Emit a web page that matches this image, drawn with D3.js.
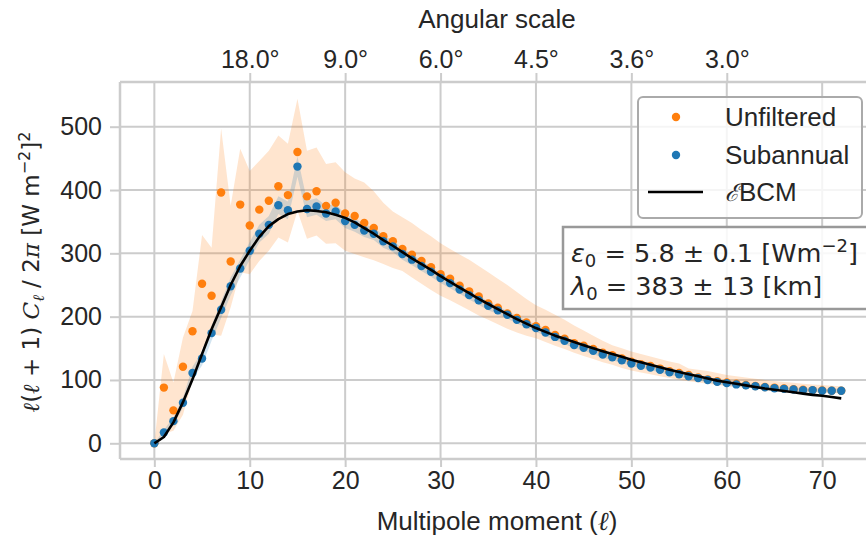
<!DOCTYPE html>
<html>
<head>
<meta charset="utf-8">
<script src="https://cdn.jsdelivr.net/npm/d3@7"></script>
<style>
  body { margin: 0; background: #fff; }
  svg text { font-family: "Liberation Sans", Arial, sans-serif; fill: #262626; }
  .math { font-family: "DejaVu Sans", sans-serif; }
</style>
</head>
<body>
<svg id="chart" width="866" height="537"></svg>
<script>
// multipole moments 0..72
var ells = d3.range(0, 73);

var unfiltered = [0, 88, 52, 121, 177, 252, 233, 396, 287, 377, 344, 369, 383, 406, 392, 460, 390, 398, 375, 380,
  363, 359, 348, 340, 327, 319, 307, 298, 288, 278, 267, 260, 249, 240, 232, 221, 214, 205, 198, 191,
  185, 179, 171, 165, 158, 154, 149, 143, 139, 134, 129, 125, 122, 118, 114, 111, 108, 104, 101, 98,
  96, 94, 92, 90.5, 89, 88, 86.5, 85.5, 84.5, 84, 83.5, 83, 83];

var unfilteredLo = [0, 15, 20, 45, 100, 150, 172, 170, 215, 270, 267, 288, 304, 325, 317, 367, 323, 328, 315, 316,
  304, 299, 294, 289, 283, 277, 272, 262, 252, 242, 233, 226, 218, 210, 202, 195, 188, 181, 175, 170,
  166, 160, 154, 149, 143, 138, 133, 128, 124, 119, 115, 112, 109, 106, 103, 100, 98, 96, 94, 92,
  90, 89, 88, 87, 86, 85, 84, 83, 82, 81, 80, 79.5, 79];

var unfilteredHi = [0, 141, 96, 167, 209, 329, 309, 497, 375, 465, 430, 446, 462, 486, 473, 544, 462, 467, 441, 444,
  428, 418, 412, 398, 380, 366, 357, 348, 337, 327, 316, 307, 298, 290, 280, 270, 260, 250, 239, 228,
  218, 211, 203, 195, 186, 178, 170, 162, 155, 150, 145, 141, 137, 133, 129, 126, 118, 116, 114, 111,
  108, 106, 104, 102, 100, 98.5, 97, 95.5, 94, 93, 92, 91, 90];

var subannual = [0, 17, 35, 64, 111, 134, 174, 211, 248, 276, 304, 331, 345, 376, 368, 437, 370, 374, 363, 366,
  351, 345, 336, 331, 319, 311, 299, 290, 280, 271, 261, 253, 243, 234, 226, 217, 210, 203, 195, 188,
  182, 175, 168, 162, 155, 151, 146, 140, 136, 131, 126, 122.5, 119.5, 116, 112, 109, 106, 103, 100, 97,
  95, 93, 91.5, 90, 88.5, 87, 86, 85, 84, 84, 83, 83, 83];

var subannualErr = [0, 4, 6, 8, 10, 11, 12, 13, 14, 14, 14, 14, 14, 14, 14, 16, 13, 13, 12, 12,
  11, 11, 10, 10, 10, 9, 9, 9, 8, 8, 8, 8, 7, 7, 7, 7, 6, 6, 6, 6,
  6, 6, 5, 5, 5, 5, 5, 5, 5, 4, 4, 4, 4, 4, 4, 4, 4, 4, 4, 4,
  4, 4, 3, 3, 3, 3, 3, 3, 3, 3, 3, 3, 3];

var bcm = [0, 10, 33, 65, 101, 141, 180, 215, 250, 280, 304, 326, 343, 354, 362, 366, 368, 367, 365, 361,
  356, 349, 340, 331, 321, 312, 302, 292, 283, 274, 264, 255, 246, 237, 228, 220, 212, 204, 196, 189,
  182, 176, 170, 165, 160, 155, 150, 145.5, 141, 136.5, 132, 128, 124, 120, 116, 112.5, 109, 106, 102.5, 99,
  96.5, 94, 91.5, 89, 86.5, 84.5, 82.5, 80.5, 78.5, 76.5, 75, 73, 71];

var xTicks = [0, 10, 20, 30, 40, 50, 60, 70];
var yTicks = [0, 100, 200, 300, 400, 500];
var angTicks = [10, 20, 30, 40, 50, 60];
var angLabels = ["18.0°", "9.0°", "6.0°", "4.5°", "3.6°", "3.0°"];

var orange = "#ff7f0e", blue = "#1f77b4", gridColor = "#cccccc";

var width = 866, height = 537,
    margin = { top: 82, bottom: 78, left: 120 },
    plotRight = 875.6,
    plotBottom = height - margin.bottom;

var x = d3.scaleLinear().domain([-3.6, 75.6]).range([margin.left, plotRight]);
var y = d3.scaleLinear().domain([-24.8, 570.6]).range([plotBottom, margin.top]);

var svg = d3.select("#chart");

svg.append("defs").append("clipPath").attr("id", "plotclip")
  .append("rect")
  .attr("x", margin.left).attr("y", margin.top)
  .attr("width", plotRight - margin.left).attr("height", plotBottom - margin.top);

// grid
var grid = svg.append("g").attr("class", "grid");
grid.selectAll(".gx").data(xTicks).enter().append("line")
  .attr("x1", d => x(d)).attr("x2", d => x(d))
  .attr("y1", margin.top).attr("y2", plotBottom)
  .attr("stroke", gridColor).attr("stroke-width", 2);
grid.selectAll(".gy").data(yTicks).enter().append("line")
  .attr("x1", margin.left).attr("x2", plotRight)
  .attr("y1", d => y(d)).attr("y2", d => y(d))
  .attr("stroke", gridColor).attr("stroke-width", 2);

var plot = svg.append("g").attr("clip-path", "url(#plotclip)");

// uncertainty bands
var bandUnf = d3.area()
  .x(d => x(d))
  .y0(d => y(unfilteredLo[d]))
  .y1(d => y(unfilteredHi[d]));
plot.append("path").datum(ells).attr("d", bandUnf)
  .attr("fill", orange).attr("fill-opacity", 0.2);

var bandSub = d3.area()
  .x(d => x(d))
  .y0(d => y(subannual[d] - subannualErr[d]))
  .y1(d => y(subannual[d] + subannualErr[d]));
plot.append("path").datum(ells).attr("d", bandSub)
  .attr("fill", blue).attr("fill-opacity", 0.2);

// points
plot.selectAll(".pu").data(ells).enter().append("circle")
  .attr("cx", d => x(d)).attr("cy", d => y(unfiltered[d]))
  .attr("r", 4.2).attr("fill", orange);
plot.selectAll(".ps").data(ells).enter().append("circle")
  .attr("cx", d => x(d)).attr("cy", d => y(subannual[d]))
  .attr("r", 4.2).attr("fill", blue);

// model curve
var line = d3.line().x(d => x(d)).y(d => y(bcm[d]));
plot.append("path").datum(ells).attr("d", line)
  .attr("fill", "none").attr("stroke", "#000").attr("stroke-width", 2.6)
  .attr("stroke-linejoin", "round");

// spines
svg.append("line").attr("x1", margin.left).attr("x2", margin.left)
  .attr("y1", margin.top).attr("y2", plotBottom)
  .attr("stroke", gridColor).attr("stroke-width", 2.5);
svg.append("line").attr("x1", margin.left).attr("x2", plotRight)
  .attr("y1", margin.top).attr("y2", margin.top)
  .attr("stroke", gridColor).attr("stroke-width", 2.5);
svg.append("line").attr("x1", margin.left).attr("x2", plotRight)
  .attr("y1", plotBottom).attr("y2", plotBottom)
  .attr("stroke", gridColor).attr("stroke-width", 2.5);

// axes
var xAxis = d3.axisBottom(x).tickValues(xTicks).tickSize(8).tickPadding(4);
var gx = svg.append("g").attr("transform", "translate(0," + plotBottom + ")").call(xAxis);

var yAxis = d3.axisLeft(y).tickValues(yTicks).tickSize(10).tickPadding(8);
var gy = svg.append("g").attr("transform", "translate(" + margin.left + ",0)").call(yAxis);

var topAxis = d3.axisTop(x).tickValues(angTicks).tickSize(9).tickPadding(5)
  .tickFormat((d, i) => angLabels[i]);
var gt = svg.append("g").attr("transform", "translate(0," + margin.top + ")").call(topAxis);

[gx, gy, gt].forEach(function(g) {
  g.select(".domain").remove();
  g.selectAll(".tick line").attr("stroke", gridColor).attr("stroke-width", 2);
  g.selectAll(".tick text").attr("fill", "#262626")
    .style("font-family", '"Liberation Sans", Arial, sans-serif')
    .style("font-size", "25px");
});

// axis titles
svg.append("text").attr("x", 497).attr("y", 28).attr("text-anchor", "middle")
  .style("font-size", "26px").text("Angular scale");
var xlab = svg.append("text").attr("x", 497).attr("y", 530).attr("text-anchor", "middle")
  .style("font-size", "26px");
xlab.append("tspan").text("Multipole moment (");
xlab.append("tspan").style("font-family", '"DejaVu Serif", serif').style("font-style", "italic").text("ℓ");
xlab.append("tspan").text(")");

var ylab = svg.append("text").attr("class", "math")
  .attr("transform", "translate(39,272) rotate(-90)")
  .attr("text-anchor", "middle").style("font-size", "23px");
ylab.append("tspan").style("font-family", '"DejaVu Serif", serif').style("font-style", "italic").text("ℓ");
ylab.append("tspan").text("(");
ylab.append("tspan").style("font-family", '"DejaVu Serif", serif').style("font-style", "italic").text("ℓ");
ylab.append("tspan").text(" + 1) ");
ylab.append("tspan").style("font-family", '"DejaVu Serif", serif').style("font-style", "italic").text("C");
ylab.append("tspan").attr("dy", 5).style("font-size", "16px")
  .style("font-family", '"DejaVu Serif", serif').style("font-style", "italic").text("ℓ");
ylab.append("tspan").attr("dy", -5).text(" / 2");
ylab.append("tspan").style("font-family", '"DejaVu Serif", serif').style("font-style", "italic").text("π");
ylab.append("tspan").text("  [W m");
ylab.append("tspan").attr("dy", -9).style("font-size", "16px").text("−2");
ylab.append("tspan").attr("dy", 9).text("]");
ylab.append("tspan").attr("dy", -9).style("font-size", "16px").text("2");

// legend
var legend = svg.append("g");
legend.append("rect").attr("x", 638).attr("y", 97).attr("width", 224).attr("height", 121)
  .attr("rx", 5).attr("fill", "#fff").attr("fill-opacity", 0.8)
  .attr("stroke", "#aaaaaa").attr("stroke-width", 2);
var legItems = [
  { label: "Unfiltered", color: orange, type: "dot", y: 117 },
  { label: "Subannual", color: blue, type: "dot", y: 155 },
  { label: "BCM", color: "#000", type: "line", y: 192 }
];
legItems.forEach(function(it) {
  if (it.type === "dot") {
    legend.append("circle").attr("cx", 676).attr("cy", it.y).attr("r", 4.2).attr("fill", it.color);
  } else {
    legend.append("line").attr("x1", 648).attr("x2", 703).attr("y1", it.y).attr("y2", it.y)
      .attr("stroke", it.color).attr("stroke-width", 2.6);
  }
  var t = legend.append("text").attr("x", 725).attr("y", it.y + 8.5).style("font-size", "26px");
  if (it.type === "line") {
    t.append("tspan").style("font-family", '"DejaVu Serif", serif').style("font-style", "italic")
      .style("font-size", "24px").text("ℰ");
  }
  t.append("tspan").text(it.label);
});

// fit parameters box
var box = svg.append("g");
box.append("rect").attr("x", 563).attr("y", 227).attr("width", 320).attr("height", 82)
  .attr("fill", "#fff").attr("fill-opacity", 0.85)
  .attr("stroke", "#999999").attr("stroke-width", 2.5);
var l1 = box.append("text").attr("class", "math").attr("x", 571).attr("y", 262).style("font-size", "25.6px");
l1.append("tspan").style("font-style", "italic").text("ε");
l1.append("tspan").attr("dy", 5).style("font-size", "18px").text("0");
l1.append("tspan").attr("dy", -5).text(" = 5.8 ± 0.1 [Wm");
l1.append("tspan").attr("dy", -10).style("font-size", "18px").text("−2");
l1.append("tspan").attr("dy", 10).text("]");
var l2 = box.append("text").attr("class", "math").attr("x", 571).attr("y", 295).style("font-size", "25.6px");
l2.append("tspan").style("font-style", "italic").text("λ");
l2.append("tspan").attr("dy", 5).style("font-size", "18px").text("0");
l2.append("tspan").attr("dy", -5).text(" = 383 ± 13 [km]");
</script>
</body>
</html>
